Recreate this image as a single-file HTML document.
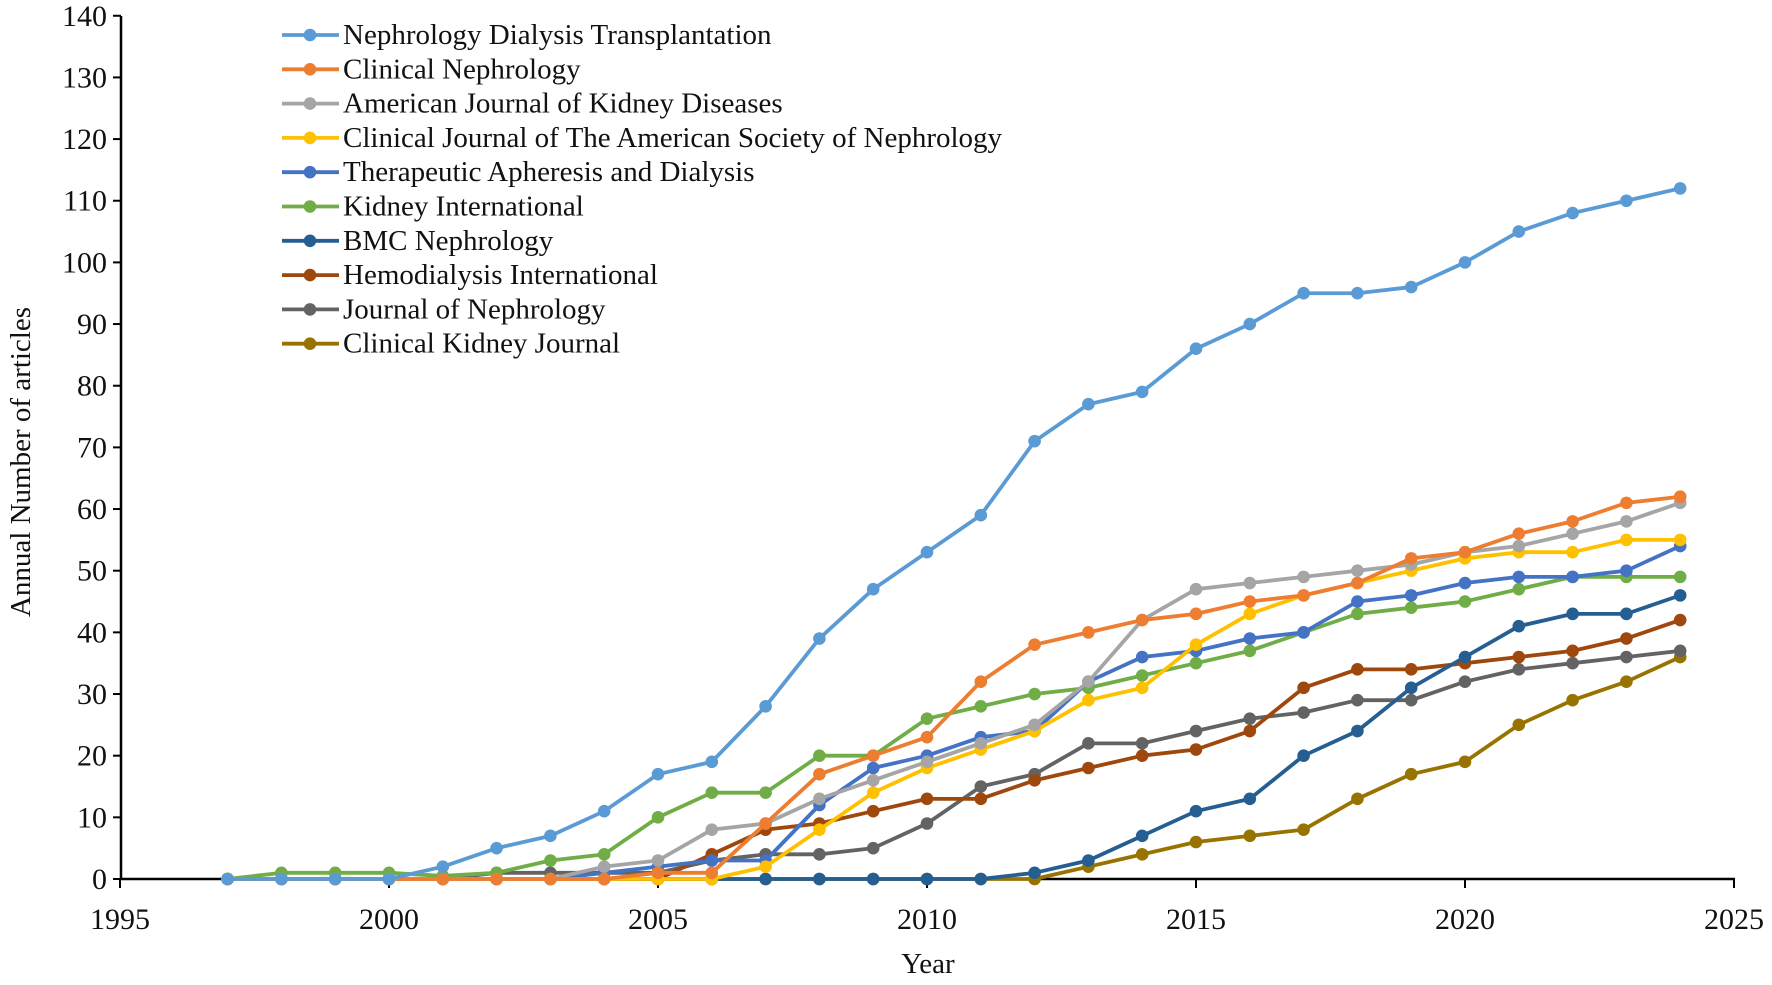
<!DOCTYPE html>
<html><head><meta charset="utf-8"><style>
html,body{margin:0;padding:0;background:#fff}
svg text{font-family:"Liberation Serif",serif;fill:#111}
</style></head><body>
<svg id="c" width="1772" height="980" xmlns="http://www.w3.org/2000/svg"></svg>
<script>
const s=document.getElementById('c');
const X=y=>120+(y-1995)*53.8, Y=v=>879-v*6.166;
let h='';
h+=`<line x1="121" y1="16" x2="121" y2="880" stroke="#000" stroke-width="2.5"/>`;
h+=`<line x1="120" y1="879" x2="1735" y2="879" stroke="#000" stroke-width="2.5"/>`;
for(let v=0;v<=140;v+=10){const y=Y(v);h+=`<line x1="113" y1="${y}" x2="121" y2="${y}" stroke="#000" stroke-width="2"/><text x="107" y="${y+10}" font-size="30" text-anchor="end">${v}</text>`;}
for(let yr=1995;yr<=2025;yr+=5){const x=X(yr);h+=`<line x1="${x}" y1="879" x2="${x}" y2="888" stroke="#000" stroke-width="2"/><text x="${x}" y="929" font-size="30" text-anchor="middle">${yr}</text>`;}
h+=`<text x="928" y="973" font-size="29" text-anchor="middle">Year</text>`;
h+=`<text transform="translate(30,462) rotate(-90)" font-size="29" text-anchor="middle">Annual Number of articles</text>`;
const z=n=>Array(n).fill(0);
const S=[
["Nephrology Dialysis Transplantation","#5B9BD5",[0,0,0,0,2,5,7,11,17,19,28,39,47,53,59,71,77,79,86,90,95,95,96,100,105,108,110,112]],
["Clinical Nephrology","#ED7D31",[...z(8),1,1,9,17,20,23,32,38,40,42,43,45,46,48,52,53,56,58,61,62]],
["American Journal of Kidney Diseases","#A5A5A5",[...z(7),2,3,8,9,13,16,19,22,25,32,42,47,48,49,50,51,53,54,56,58,61]],
["Clinical Journal of The American Society of Nephrology","#FFC000",[...z(10),2,8,14,18,21,24,29,31,38,43,46,48,50,52,53,53,55,55]],
["Therapeutic Apheresis and Dialysis","#4472C4",[...z(7),1,2,3,3,12,18,20,23,24,32,36,37,39,40,45,46,48,49,49,50,54]],
["Kidney International","#70AD47",[0,1,1,1,0.5,1,3,4,10,14,14,20,20,26,28,30,31,33,35,37,40,43,44,45,47,49,49,49]],
["BMC Nephrology","#255E91",[...z(15),1,3,7,11,13,20,24,31,36,41,43,43,46]],
["Hemodialysis International","#9E480E",[...z(9),4,8,9,11,13,13,16,18,20,21,24,31,34,34,35,36,37,39,42]],
["Journal of Nephrology","#636363",[...z(5),1,1,1,1,3,4,4,5,9,15,17,22,22,24,26,27,29,29,32,34,35,36,37]],
["Clinical Kidney Journal","#997300",[...z(16),2,4,6,7,8,13,17,19,25,29,32,36]]
];
for(let i=S.length-1;i>=0;i--){const [n,c,d]=S[i];
 h+=`<polyline fill="none" stroke="${c}" stroke-width="3.8" stroke-linejoin="round" points="${d.map((v,k)=>X(1997+k)+','+Y(v)).join(' ')}"/>`;
 d.forEach((v,k)=>h+=`<circle cx="${X(1997+k)}" cy="${Y(v)}" r="6.3" fill="${c}"/>`);}
S.forEach(([n,c],i)=>{const y=35+i*34.3;
 h+=`<line x1="282" y1="${y}" x2="339" y2="${y}" stroke="${c}" stroke-width="3.8"/><circle cx="310" cy="${y}" r="6.3" fill="${c}"/><text x="343" y="${y+9}" font-size="29">${n}</text>`;});
s.innerHTML=h;
</script>
</body></html>
